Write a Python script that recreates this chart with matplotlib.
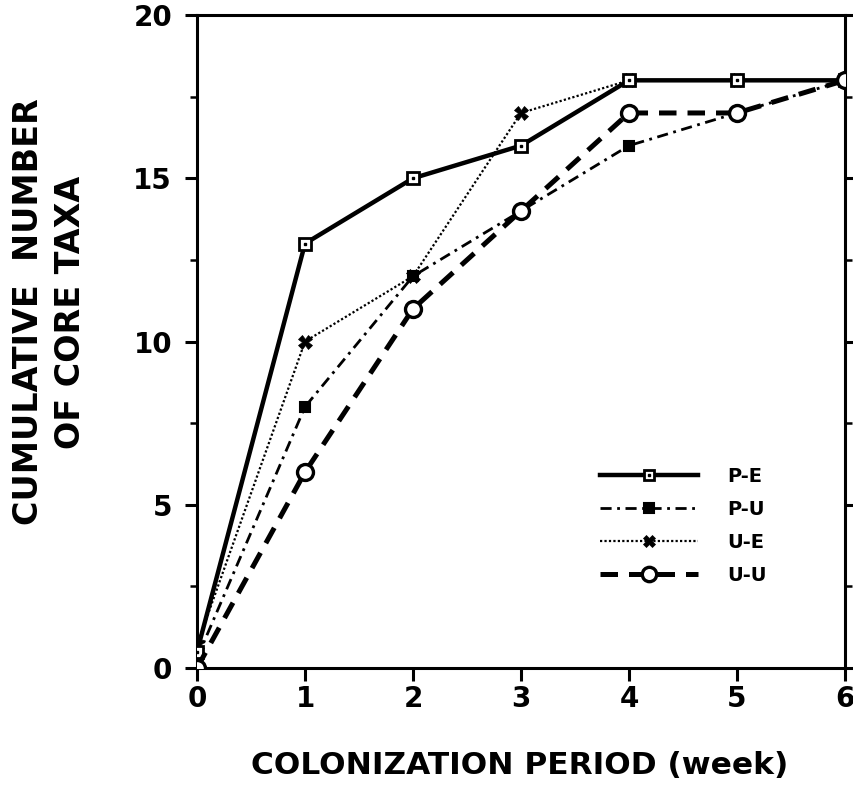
import matplotlib
matplotlib.use("Agg")
import matplotlib.pyplot as plt
from matplotlib.ticker import MultipleLocator
from matplotlib.legend_handler import HandlerTuple

plt.rcParams['font.family'] = ['DejaVu Sans']
plt.rcParams['font.weight'] = 'bold'

weeks = [0, 1, 2, 3, 4, 5, 6]
pe = [0.5, 13, 15, 16, 18, 18, 18]
pu = [0.3, 8, 12, 14, 16, 17, 18]
ue = [0.7, 10, 12, 17, 18, 18, 18]
uu = [0, 6, 11, 14, 17, 17, 18]
series_names = ["P-E", "P-U", "U-E", "U-U"]

fig = plt.figure(figsize=(8.54, 8.08), dpi=100)
ax = fig.add_axes([0.2307, 0.1733, 0.7588, 0.8081])

h_pe, = ax.plot(weeks, pe, color='black', lw=3.2, ls='-', marker='s', ms=8,
                mfc='white', mec='black', mew=2.0, zorder=4)
h_pe_dot, = ax.plot(weeks, pe, ls='none', marker='s', ms=1.8, color='black', zorder=4.5)
h_pu, = ax.plot(weeks, pu, color='black', lw=2.0, ls=(0, (4, 2, 1, 2)), marker='s', ms=7.5,
                mfc='black', mec='black', mew=1.5, zorder=3)
h_ue, = ax.plot(weeks, ue, color='black', lw=1.6, ls=(0, (1, 1)), marker='X', ms=10,
                mfc='black', mec='black', mew=0.5, zorder=3)
h_uu, = ax.plot(weeks, uu, color='black', lw=3.6, ls=(0, (3.5, 2.2)), marker='o', ms=11.5,
                mfc='white', mec='black', mew=2.4, zorder=5)

ax.set_xlim(0, 6)
ax.set_ylim(0, 20)
ax.xaxis.set_major_locator(MultipleLocator(1))
ax.yaxis.set_major_locator(MultipleLocator(5))
ax.yaxis.set_minor_locator(MultipleLocator(2.5))

for s in ax.spines.values():
    s.set_linewidth(2.2)

ax.tick_params(axis='both', which='major', direction='out', length=9, width=2.2,
               labelsize=20)
ax.tick_params(axis='x', which='major', pad=3)
ax.tick_params(axis='y', which='major', pad=9)
ax.tick_params(axis='y', which='minor', direction='out', length=5, width=1.8)
ax.tick_params(axis='y', which='both', right=True)
for lab in ax.get_xticklabels() + ax.get_yticklabels():
    lab.set_fontweight('bold')

fig.text(0.609, 0.053, "COLONIZATION PERIOD (week)", ha='center', va='center',
         fontsize=22.5, fontweight='bold')
fig.text(0.058, 0.614, "CUMULATIVE  NUMBER\nOF CORE TAXA", ha='center', va='center',
         rotation=90, fontsize=24, fontweight='bold', linespacing=1.35)

leg = ax.legend([(h_pe, h_pe_dot), h_pu, h_ue, h_uu], series_names,
                handler_map={tuple: HandlerTuple(ndivide=1, pad=0)},
                loc='upper left', bbox_to_anchor=(0.622, 0.308), frameon=False,
                fontsize=14, handlelength=5.05, handletextpad=1.5, labelspacing=0.72,
                borderpad=0, borderaxespad=0, markerscale=0.9)
for t in leg.get_texts():
    t.set_fontweight('bold')

fig.savefig("out.png", dpi=100)
